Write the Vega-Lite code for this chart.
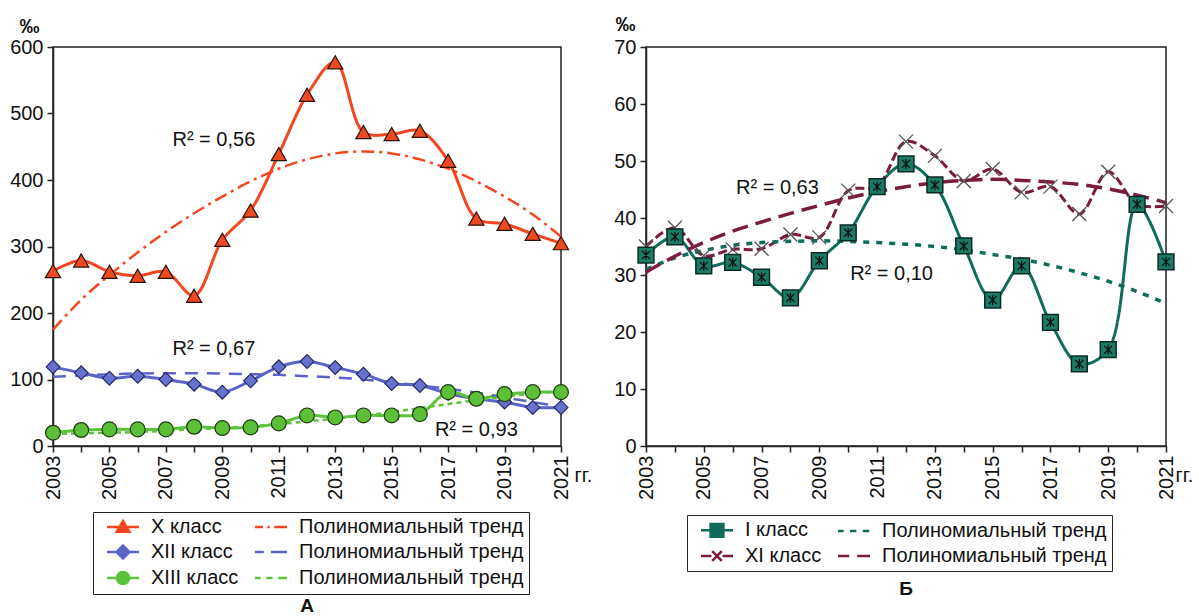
{
  "$schema": "https://vega.github.io/schema/vega-lite/v6.json",
  "background": "white",
  "padding": {"left": 8, "top": 13, "right": 0, "bottom": 0},
  "spacing": 85,
  "bounds": "flush",
  "config": {
    "font": "Liberation Sans",
    "view": {"stroke": "#222", "strokeWidth": 1.5},
    "axis": {"grid": false, "labelFont": "Liberation Sans", "labelFontSize": 20, "labelColor": "#111", "domainColor": "#222", "domainWidth": 1.5, "tickColor": "#222", "tickWidth": 1.5, "tickSize": 6, "titleFont": "Liberation Sans", "titleColor": "#111"},
    "title": {"font": "Liberation Sans", "fontSize": 19, "fontWeight": "bold", "color": "#111"},
    "text": {"font": "Liberation Sans"}
  },
  "resolve": {
    "scale": {"x": "independent", "y": "independent", "color": "independent", "fill": "independent", "stroke": "independent", "shape": "independent", "strokeDash": "independent"},
    "legend": {"fill": "independent", "stroke": "independent", "shape": "independent"}
  },
  "hconcat": [
    {
      "width": 508,
      "height": 399,
      "title": {"text": "А", "orient": "bottom", "anchor": "middle", "offset": 2},
      "data": {"values": [
        {"year":2003,"value":263,"series":"X класс"},{"year":2004,"value":279,"series":"X класс"},{"year":2005,"value":262,"series":"X класс"},{"year":2006,"value":256,"series":"X класс"},{"year":2007,"value":262,"series":"X класс"},{"year":2008,"value":226,"series":"X класс"},{"year":2009,"value":310,"series":"X класс"},{"year":2010,"value":354,"series":"X класс"},{"year":2011,"value":439,"series":"X класс"},{"year":2012,"value":528,"series":"X класс"},{"year":2013,"value":577,"series":"X класс"},{"year":2014,"value":472,"series":"X класс"},{"year":2015,"value":469,"series":"X класс"},{"year":2016,"value":474,"series":"X класс"},{"year":2017,"value":429,"series":"X класс"},{"year":2018,"value":342,"series":"X класс"},{"year":2019,"value":334,"series":"X класс"},{"year":2020,"value":319,"series":"X класс"},{"year":2021,"value":305,"series":"X класс"},
        {"year":2003,"value":175,"series":"X тренд"},{"year":2004,"value":220,"series":"X тренд"},{"year":2005,"value":257,"series":"X тренд"},{"year":2006,"value":291,"series":"X тренд"},{"year":2007,"value":322,"series":"X тренд"},{"year":2008,"value":350,"series":"X тренд"},{"year":2009,"value":375,"series":"X тренд"},{"year":2010,"value":398,"series":"X тренд"},{"year":2011,"value":417,"series":"X тренд"},{"year":2012,"value":431,"series":"X тренд"},{"year":2013,"value":440,"series":"X тренд"},{"year":2014,"value":443,"series":"X тренд"},{"year":2015,"value":440,"series":"X тренд"},{"year":2016,"value":431,"series":"X тренд"},{"year":2017,"value":417,"series":"X тренд"},{"year":2018,"value":398,"series":"X тренд"},{"year":2019,"value":375,"series":"X тренд"},{"year":2020,"value":348,"series":"X тренд"},{"year":2021,"value":315,"series":"X тренд"},
        {"year":2003,"value":119,"series":"XII класс"},{"year":2004,"value":110,"series":"XII класс"},{"year":2005,"value":102,"series":"XII класс"},{"year":2006,"value":105,"series":"XII класс"},{"year":2007,"value":100,"series":"XII класс"},{"year":2008,"value":93,"series":"XII класс"},{"year":2009,"value":81,"series":"XII класс"},{"year":2010,"value":98,"series":"XII класс"},{"year":2011,"value":119,"series":"XII класс"},{"year":2012,"value":127,"series":"XII класс"},{"year":2013,"value":118,"series":"XII класс"},{"year":2014,"value":108,"series":"XII класс"},{"year":2015,"value":94,"series":"XII класс"},{"year":2016,"value":91,"series":"XII класс"},{"year":2017,"value":79,"series":"XII класс"},{"year":2018,"value":71,"series":"XII класс"},{"year":2019,"value":66,"series":"XII класс"},{"year":2020,"value":58,"series":"XII класс"},{"year":2021,"value":58,"series":"XII класс"},
        {"year":2003,"value":104,"series":"XII тренд"},{"year":2004,"value":106,"series":"XII тренд"},{"year":2005,"value":108,"series":"XII тренд"},{"year":2006,"value":109,"series":"XII тренд"},{"year":2007,"value":109.5,"series":"XII тренд"},{"year":2008,"value":109.5,"series":"XII тренд"},{"year":2009,"value":109,"series":"XII тренд"},{"year":2010,"value":108,"series":"XII тренд"},{"year":2011,"value":107,"series":"XII тренд"},{"year":2012,"value":105,"series":"XII тренд"},{"year":2013,"value":103,"series":"XII тренд"},{"year":2014,"value":100,"series":"XII тренд"},{"year":2015,"value":96,"series":"XII тренд"},{"year":2016,"value":91,"series":"XII тренд"},{"year":2017,"value":86,"series":"XII тренд"},{"year":2018,"value":80,"series":"XII тренд"},{"year":2019,"value":73,"series":"XII тренд"},{"year":2020,"value":66,"series":"XII тренд"},{"year":2021,"value":59,"series":"XII тренд"},
        {"year":2003,"value":20,"series":"XIII класс"},{"year":2004,"value":24,"series":"XIII класс"},{"year":2005,"value":25,"series":"XIII класс"},{"year":2006,"value":25,"series":"XIII класс"},{"year":2007,"value":25,"series":"XIII класс"},{"year":2008,"value":29,"series":"XIII класс"},{"year":2009,"value":27,"series":"XIII класс"},{"year":2010,"value":28,"series":"XIII класс"},{"year":2011,"value":34,"series":"XIII класс"},{"year":2012,"value":46,"series":"XIII класс"},{"year":2013,"value":43,"series":"XIII класс"},{"year":2014,"value":46,"series":"XIII класс"},{"year":2015,"value":46,"series":"XIII класс"},{"year":2016,"value":48,"series":"XIII класс"},{"year":2017,"value":81,"series":"XIII класс"},{"year":2018,"value":71,"series":"XIII класс"},{"year":2019,"value":78,"series":"XIII класс"},{"year":2020,"value":81,"series":"XIII класс"},{"year":2021,"value":81,"series":"XIII класс"},
        {"year":2003,"value":18,"series":"XIII тренд"},{"year":2004,"value":19,"series":"XIII тренд"},{"year":2005,"value":20,"series":"XIII тренд"},{"year":2006,"value":21,"series":"XIII тренд"},{"year":2007,"value":23,"series":"XIII тренд"},{"year":2008,"value":25,"series":"XIII тренд"},{"year":2009,"value":27,"series":"XIII тренд"},{"year":2010,"value":30,"series":"XIII тренд"},{"year":2011,"value":33,"series":"XIII тренд"},{"year":2012,"value":37,"series":"XIII тренд"},{"year":2013,"value":41,"series":"XIII тренд"},{"year":2014,"value":46,"series":"XIII тренд"},{"year":2015,"value":51,"series":"XIII тренд"},{"year":2016,"value":57,"series":"XIII тренд"},{"year":2017,"value":63,"series":"XIII тренд"},{"year":2018,"value":69,"series":"XIII тренд"},{"year":2019,"value":74,"series":"XIII тренд"},{"year":2020,"value":79,"series":"XIII тренд"},{"year":2021,"value":83,"series":"XIII тренд"}
      ]},
      "encoding": {
        "x": {"field": "year", "type": "quantitative", "scale": {"domain": [2003, 2021], "nice": false, "zero": false},
          "axis": {"values": [2003,2004,2005,2006,2007,2008,2009,2010,2011,2012,2013,2014,2015,2016,2017,2018,2019,2020,2021], "format": "d", "labelExpr": "datum.value % 2 == 1 ? datum.label : ''", "labelAngle": 270, "labelOverlap": false, "labelFlush": false, "labelPadding": 3, "title": "гг.", "titleX": 521, "titleY": 29, "titleAngle": 0, "titleAlign": "left", "titleBaseline": "middle", "titleFontWeight": "normal", "titleFontSize": 20}},
        "y": {"field": "value", "type": "quantitative", "scale": {"domain": [0, 600], "nice": false},
          "axis": {"values": [0,100,200,300,400,500,600], "labelPadding": 4, "title": "‰", "titleAngle": 0, "titleX": -24, "titleY": -21, "titleAlign": "center", "titleBaseline": "middle", "titleFontWeight": "bold", "titleFontSize": 20}}
      },
      "layer": [
        {"transform": [{"filter": "indexof(datum.series,'тренд')<0"}],
         "mark": {"type": "line", "strokeWidth": 3, "interpolate": "catmull-rom"},
         "encoding": {"color": {"field": "series", "type": "nominal", "scale": {"domain": ["XIII класс","XIII тренд","XII класс","XII тренд","X класс","X тренд"], "range": ["#5CC23A","#5CC23A","#5A63C6","#5A63C6","#F4471F","#F4471F"]}, "legend": null}}},
        {"transform": [{"filter": "indexof(datum.series,'тренд')>=0"}],
         "mark": {"type": "line", "strokeWidth": 2.5, "interpolate": "catmull-rom"},
         "encoding": {
           "color": {"field": "series", "type": "nominal", "scale": {"domain": ["XIII класс","XIII тренд","XII класс","XII тренд","X класс","X тренд"], "range": ["#5CC23A","#5CC23A","#5A63C6","#5A63C6","#F4471F","#F4471F"]}, "legend": null},
           "strokeDash": {"field": "series", "type": "nominal", "scale": {"domain": ["X тренд","XII тренд","XIII тренд"], "range": [[13,5,3,5],[13,9],[5,4]]}, "legend": null}}},
        {"transform": [{"filter": "datum.series == 'X класс'"}],
         "mark": {"type": "point", "shape": "triangle-up", "filled": true, "size": 230, "fill": "#EE4A22", "stroke": "#2b1208", "strokeWidth": 1.2, "opacity": 1}},
        {"transform": [{"filter": "datum.series == 'XII класс'"}],
         "mark": {"type": "point", "shape": "diamond", "filled": true, "size": 190, "fill": "#6872CC", "stroke": "#232a66", "strokeWidth": 1.2, "opacity": 1}},
        {"transform": [{"filter": "datum.series == 'XIII класс'"}],
         "mark": {"type": "point", "shape": "circle", "filled": true, "size": 220, "fill": "#5DBE38", "stroke": "#1c3a10", "strokeWidth": 1.2, "opacity": 1}},
        {"mark": {"type": "point", "filled": true, "size": 0},
         "encoding": {
           "fill": {"field": "series", "type": "nominal", "scale": {"domain": ["X класс","X тренд","XII класс","XII тренд","XIII класс","XIII тренд"], "range": ["#F4471F","#F4471F","#5A63C6","#5A63C6","#5CC23A","#5CC23A"]},
             "legend": {"title": null, "orient": "none", "legendX": 40, "legendY": 465, "direction": "horizontal", "columns": 2, "labelExpr": "indexof(datum.label,'тренд')>=0 ? 'Полиномиальный тренд' : datum.label", "symbolSize": 256, "symbolStrokeWidth": 2.5, "symbolOpacity": 1, "symbolOffset": 15, "labelOffset": 18, "padding": 5, "rowPadding": 3, "columnPadding": 7, "strokeColor": "#222", "fillColor": "white", "labelFontSize": 20, "labelFont": "Liberation Sans", "labelColor": "#111", "labelLimit": 400}},
           "stroke": {"field": "series", "type": "nominal", "scale": {"domain": ["X класс","X тренд","XII класс","XII тренд","XIII класс","XIII тренд"], "range": ["#F4471F","#F4471F","#5A63C6","#5A63C6","#5CC23A","#5CC23A"]},
             "legend": {"title": null, "orient": "none", "legendX": 40, "legendY": 465, "direction": "horizontal", "columns": 2, "labelExpr": "indexof(datum.label,'тренд')>=0 ? 'Полиномиальный тренд' : datum.label", "symbolSize": 256, "symbolStrokeWidth": 2.5, "symbolOpacity": 1, "symbolOffset": 15, "labelOffset": 18, "padding": 5, "rowPadding": 3, "columnPadding": 7, "strokeColor": "#222", "fillColor": "white", "labelFontSize": 20, "labelFont": "Liberation Sans", "labelColor": "#111", "labelLimit": 400}},
           "shape": {"field": "series", "type": "nominal", "scale": {"domain": ["X класс","X тренд","XII класс","XII тренд","XIII класс","XIII тренд"], "range": ["M-2,0H2M-0.8,0.6L0,-0.75L0.8,0.6Z","M-2,0H-1M-0.45,0H-0.15M0.4,0H2","M-2,0H2M0,-0.8L0.8,0L0,0.8L-0.8,0Z","M-2,0H-0.9M0,0H2","M-2,0H2M0.75,0A0.75,0.75,0,1,1,-0.75,0A0.75,0.75,0,1,1,0.75,0Z","M-2,0H-1.3M-0.6,0H0.2M0.9,0H2"]},
             "legend": {"title": null, "orient": "none", "legendX": 40, "legendY": 465, "direction": "horizontal", "columns": 2, "labelExpr": "indexof(datum.label,'тренд')>=0 ? 'Полиномиальный тренд' : datum.label", "symbolSize": 256, "symbolStrokeWidth": 2.5, "symbolOpacity": 1, "symbolOffset": 15, "labelOffset": 18, "padding": 5, "rowPadding": 3, "columnPadding": 7, "strokeColor": "#222", "fillColor": "white", "labelFontSize": 20, "labelFont": "Liberation Sans", "labelColor": "#111", "labelLimit": 400}}}},
        {"data": {"values": [
           {"year": 2008.7, "value": 460, "label": "R² = 0,56"},
           {"year": 2008.7, "value": 146, "label": "R² = 0,67"},
           {"year": 2018.0, "value": 24, "label": "R² = 0,93"}]},
         "mark": {"type": "text", "fontSize": 20, "align": "center", "baseline": "middle", "color": "#111"},
         "encoding": {"text": {"field": "label", "type": "nominal"}}}
      ]
    },
    {
      "width": 520,
      "height": 399,
      "title": {"text": "Б", "orient": "bottom", "anchor": "middle", "offset": 8},
      "data": {"values": [
        {"year":2003,"value":33.5,"series":"I класс"},{"year":2004,"value":36.7,"series":"I класс"},{"year":2005,"value":31.6,"series":"I класс"},{"year":2006,"value":32.2,"series":"I класс"},{"year":2007,"value":29.6,"series":"I класс"},{"year":2008,"value":26.0,"series":"I класс"},{"year":2009,"value":32.5,"series":"I класс"},{"year":2010,"value":37.4,"series":"I класс"},{"year":2011,"value":45.5,"series":"I класс"},{"year":2012,"value":49.5,"series":"I класс"},{"year":2013,"value":45.8,"series":"I класс"},{"year":2014,"value":35.1,"series":"I класс"},{"year":2015,"value":25.6,"series":"I класс"},{"year":2016,"value":31.6,"series":"I класс"},{"year":2017,"value":21.7,"series":"I класс"},{"year":2018,"value":14.4,"series":"I класс"},{"year":2019,"value":16.9,"series":"I класс"},{"year":2020,"value":42.4,"series":"I класс"},{"year":2021,"value":32.3,"series":"I класс"},
        {"year":2003,"value":31,"series":"I тренд"},{"year":2004,"value":33,"series":"I тренд"},{"year":2005,"value":34.3,"series":"I тренд"},{"year":2006,"value":35.2,"series":"I тренд"},{"year":2007,"value":35.7,"series":"I тренд"},{"year":2008,"value":35.9,"series":"I тренд"},{"year":2009,"value":36,"series":"I тренд"},{"year":2010,"value":35.9,"series":"I тренд"},{"year":2011,"value":35.7,"series":"I тренд"},{"year":2012,"value":35.4,"series":"I тренд"},{"year":2013,"value":35,"series":"I тренд"},{"year":2014,"value":34.4,"series":"I тренд"},{"year":2015,"value":33.6,"series":"I тренд"},{"year":2016,"value":32.8,"series":"I тренд"},{"year":2017,"value":31.7,"series":"I тренд"},{"year":2018,"value":30.4,"series":"I тренд"},{"year":2019,"value":28.9,"series":"I тренд"},{"year":2020,"value":27.1,"series":"I тренд"},{"year":2021,"value":25,"series":"I тренд"},
        {"year":2003,"value":35,"series":"XI класс"},{"year":2004,"value":38.3,"series":"XI класс"},{"year":2005,"value":33.4,"series":"XI класс"},{"year":2006,"value":34.5,"series":"XI класс"},{"year":2007,"value":34.6,"series":"XI класс"},{"year":2008,"value":37.1,"series":"XI класс"},{"year":2009,"value":36.6,"series":"XI класс"},{"year":2010,"value":44.8,"series":"XI класс"},{"year":2011,"value":45.6,"series":"XI класс"},{"year":2012,"value":53.4,"series":"XI класс"},{"year":2013,"value":50.9,"series":"XI класс"},{"year":2014,"value":46.5,"series":"XI класс"},{"year":2015,"value":48.6,"series":"XI класс"},{"year":2016,"value":44.5,"series":"XI класс"},{"year":2017,"value":45.5,"series":"XI класс"},{"year":2018,"value":40.7,"series":"XI класс"},{"year":2019,"value":48.1,"series":"XI класс"},{"year":2020,"value":42.4,"series":"XI класс"},{"year":2021,"value":42.1,"series":"XI класс"},
        {"year":2003,"value":30.5,"series":"XI тренд"},{"year":2004,"value":33.3,"series":"XI тренд"},{"year":2005,"value":35.7,"series":"XI тренд"},{"year":2006,"value":37.7,"series":"XI тренд"},{"year":2007,"value":39.3,"series":"XI тренд"},{"year":2008,"value":40.8,"series":"XI тренд"},{"year":2009,"value":42.2,"series":"XI тренд"},{"year":2010,"value":43.5,"series":"XI тренд"},{"year":2011,"value":44.6,"series":"XI тренд"},{"year":2012,"value":45.5,"series":"XI тренд"},{"year":2013,"value":46.2,"series":"XI тренд"},{"year":2014,"value":46.6,"series":"XI тренд"},{"year":2015,"value":46.8,"series":"XI тренд"},{"year":2016,"value":46.6,"series":"XI тренд"},{"year":2017,"value":46.3,"series":"XI тренд"},{"year":2018,"value":45.9,"series":"XI тренд"},{"year":2019,"value":45.1,"series":"XI тренд"},{"year":2020,"value":44,"series":"XI тренд"},{"year":2021,"value":42.7,"series":"XI тренд"}
      ]},
      "encoding": {
        "x": {"field": "year", "type": "quantitative", "scale": {"domain": [2003, 2021], "nice": false, "zero": false},
          "axis": {"values": [2003,2004,2005,2006,2007,2008,2009,2010,2011,2012,2013,2014,2015,2016,2017,2018,2019,2020,2021], "format": "d", "labelExpr": "datum.value % 2 == 1 ? datum.label : ''", "labelAngle": 270, "labelOverlap": false, "labelFlush": false, "labelPadding": 3, "title": "гг.", "titleX": 529, "titleY": 29, "titleAngle": 0, "titleAlign": "left", "titleBaseline": "middle", "titleFontWeight": "normal", "titleFontSize": 20}},
        "y": {"field": "value", "type": "quantitative", "scale": {"domain": [0, 70], "nice": false},
          "axis": {"values": [0,10,20,30,40,50,60,70], "labelPadding": 4, "title": "‰", "titleAngle": 0, "titleX": -21, "titleY": -23, "titleAlign": "center", "titleBaseline": "middle", "titleFontWeight": "bold", "titleFontSize": 20}}
      },
      "layer": [
        {"transform": [{"filter": "indexof(datum.series,'тренд')<0"}],
         "mark": {"type": "line", "strokeWidth": 3, "interpolate": "catmull-rom"},
         "encoding": {
           "color": {"field": "series", "type": "nominal", "scale": {"domain": ["XI класс","XI тренд","I класс","I тренд"], "range": ["#7B1B3F","#7B1B3F","#0F6B5B","#0F6B5B"]}, "legend": null},
           "strokeDash": {"field": "series", "type": "nominal", "scale": {"domain": ["I тренд","I класс","XI тренд","XI класс"], "range": [[6,7],[1,0],[16,8],[9,4]]}, "legend": null}}},
        {"transform": [{"filter": "indexof(datum.series,'тренд')>=0"}],
         "mark": {"type": "line", "strokeWidth": 3.5, "interpolate": "catmull-rom"},
         "encoding": {
           "color": {"field": "series", "type": "nominal", "scale": {"domain": ["XI класс","XI тренд","I класс","I тренд"], "range": ["#7B1B3F","#7B1B3F","#0F6B5B","#0F6B5B"]}, "legend": null},
           "strokeDash": {"field": "series", "type": "nominal", "scale": {"domain": ["I тренд","I класс","XI тренд","XI класс"], "range": [[6,7],[1,0],[16,8],[9,4]]}, "legend": null}}},
        {"transform": [{"filter": "datum.series == 'XI класс'"}],
         "mark": {"type": "point", "shape": "M-1,-1L1,1M-1,1L1,-1", "filled": false, "size": 196, "stroke": "#555", "strokeWidth": 1.3, "opacity": 1}},
        {"transform": [{"filter": "datum.series == 'I класс'"}],
         "mark": {"type": "point", "shape": "square", "filled": true, "size": 250, "fill": "#1B7A66", "stroke": "#0a2b24", "strokeWidth": 1.5, "opacity": 1}},
        {"transform": [{"filter": "datum.series == 'I класс'"}],
         "mark": {"type": "point", "shape": "M-1,-1L1,1M-1,1L1,-1M0,-1.2V1.2", "filled": false, "size": 64, "stroke": "#111", "strokeWidth": 1.3, "opacity": 1}},
        {"mark": {"type": "point", "filled": true, "size": 0},
         "encoding": {
           "fill": {"field": "series", "type": "nominal", "scale": {"domain": ["I класс","I тренд","XI класс","XI тренд"], "range": ["#0F6B5B","#0F6B5B","#7B1B3F","#7B1B3F"]},
             "legend": {"title": null, "orient": "none", "legendX": 41, "legendY": 468, "direction": "horizontal", "columns": 2, "labelExpr": "indexof(datum.label,'тренд')>=0 ? 'Полиномиальный тренд' : datum.label", "symbolSize": 256, "symbolStrokeWidth": 2.5, "symbolOpacity": 1, "symbolOffset": 15, "labelOffset": 18, "padding": 5, "rowPadding": 4, "columnPadding": 7, "strokeColor": "#222", "fillColor": "white", "labelFontSize": 20, "labelFont": "Liberation Sans", "labelColor": "#111", "labelLimit": 400}},
           "stroke": {"field": "series", "type": "nominal", "scale": {"domain": ["I класс","I тренд","XI класс","XI тренд"], "range": ["#0F6B5B","#0F6B5B","#7B1B3F","#7B1B3F"]},
             "legend": {"title": null, "orient": "none", "legendX": 41, "legendY": 468, "direction": "horizontal", "columns": 2, "labelExpr": "indexof(datum.label,'тренд')>=0 ? 'Полиномиальный тренд' : datum.label", "symbolSize": 256, "symbolStrokeWidth": 2.5, "symbolOpacity": 1, "symbolOffset": 15, "labelOffset": 18, "padding": 5, "rowPadding": 4, "columnPadding": 7, "strokeColor": "#222", "fillColor": "white", "labelFontSize": 20, "labelFont": "Liberation Sans", "labelColor": "#111", "labelLimit": 400}},
           "shape": {"field": "series", "type": "nominal", "scale": {"domain": ["I класс","I тренд","XI класс","XI тренд"], "range": ["M-2,0H2M-0.8,-0.8H0.8V0.8H-0.8Z","M-2,0H-1.3M-0.5,0H0.3M1.1,0H1.9","M-2,0H-0.7M0.7,0H2M-0.6,-0.6L0.6,0.6M-0.6,0.6L0.6,-0.6","M-2,0H-0.6M0.4,0H2"]},
             "legend": {"title": null, "orient": "none", "legendX": 41, "legendY": 468, "direction": "horizontal", "columns": 2, "labelExpr": "indexof(datum.label,'тренд')>=0 ? 'Полиномиальный тренд' : datum.label", "symbolSize": 256, "symbolStrokeWidth": 2.5, "symbolOpacity": 1, "symbolOffset": 15, "labelOffset": 18, "padding": 5, "rowPadding": 4, "columnPadding": 7, "strokeColor": "#222", "fillColor": "white", "labelFontSize": 20, "labelFont": "Liberation Sans", "labelColor": "#111", "labelLimit": 400}}}},
        {"data": {"values": [
           {"year": 2007.55, "value": 45.2, "label": "R² = 0,63"},
           {"year": 2011.5, "value": 30.1, "label": "R² = 0,10"}]},
         "mark": {"type": "text", "fontSize": 20, "align": "center", "baseline": "middle", "color": "#111"},
         "encoding": {"text": {"field": "label", "type": "nominal"}}}
      ]
    }
  ]
}
